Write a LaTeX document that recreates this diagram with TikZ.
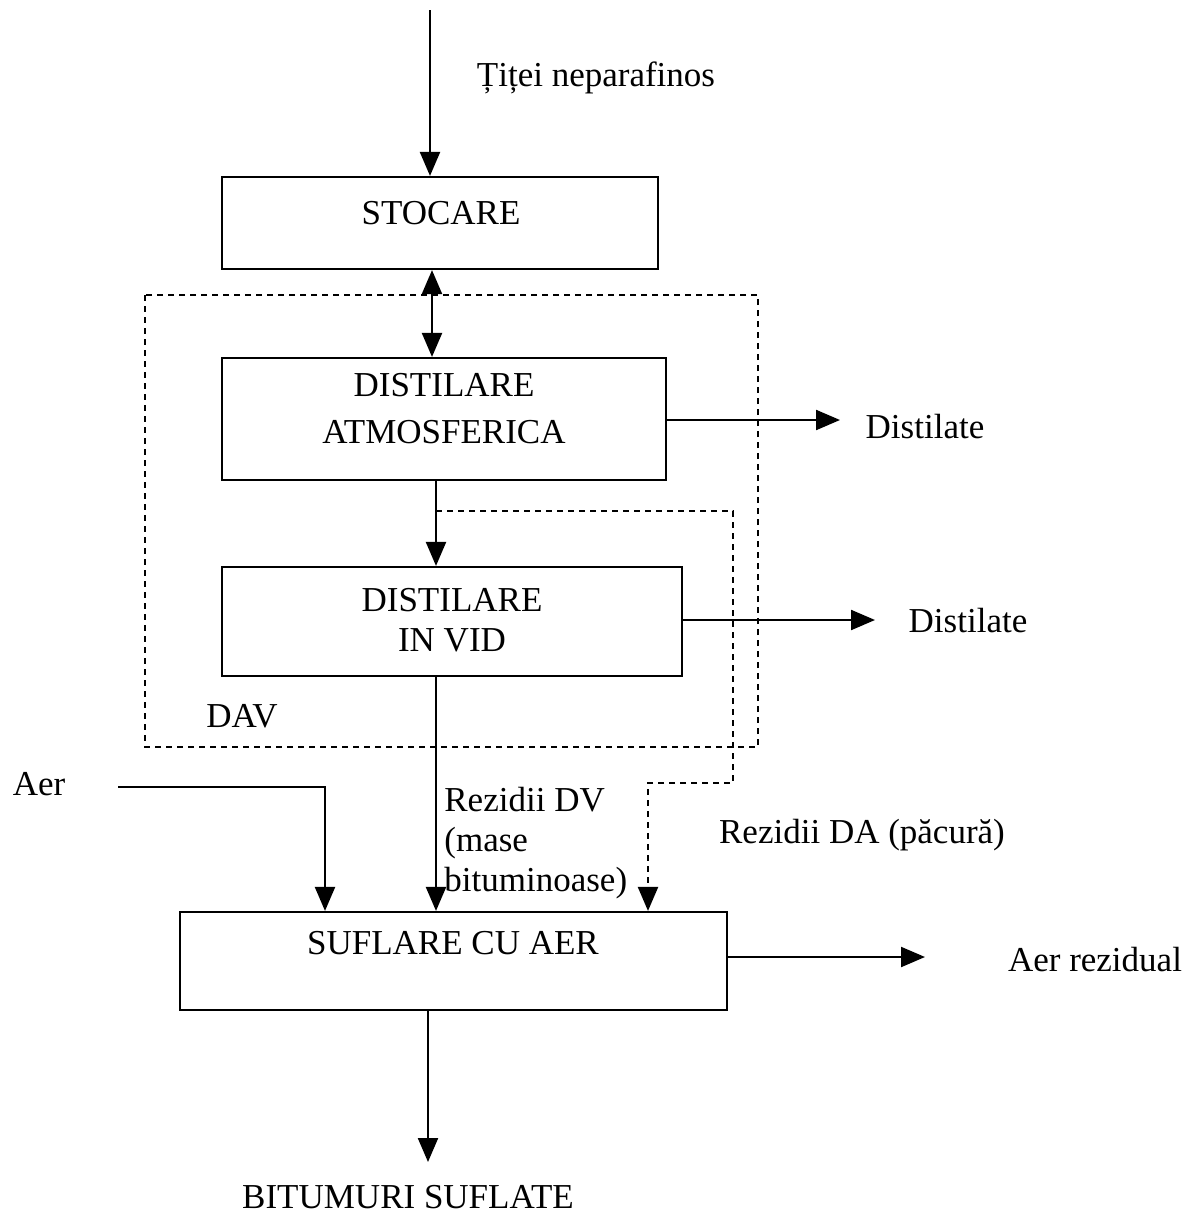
\documentclass[tikz,border=0pt]{standalone}
\usepackage{fontspec}
\setmainfont{Liberation Serif}
\usetikzlibrary{arrows.meta}
\begin{document}
\begin{tikzpicture}[x=0.5pt,y=-0.5pt,
  font=\fontsize{17.5}{20}\selectfont,
  flow/.style={line width=1.1pt, -{Triangle[length=12pt,width=10pt]}},
  dflow/.style={flow, dash pattern=on 3pt off 2.5pt},
  procbox/.style={draw, line width=1.1pt, rectangle, inner sep=0pt},
  txt/.style={inner sep=1pt}]
  % page frame
  \useasboundingbox (0,0) rectangle (1189,1217);

  % process boxes
  \node[procbox, minimum width=218pt, minimum height=46pt] (sto) at (440,223) {};
  \node[procbox, minimum width=222pt, minimum height=61pt] (atm) at (444,419) {};
  \node[procbox, minimum width=230pt, minimum height=54.5pt] (vid) at (452,621.5) {};
  \node[procbox, minimum width=273.5pt, minimum height=49pt] (suf) at (453.5,961) {};

  % box captions
  \node[txt] (stoT) at (441,213) {STOCARE};
  \node[txt, align=center, font=\fontsize{17.5}{23.5}\selectfont] (atmT) at (444,409) {DISTILARE\\ATMOSFERICA};
  \node[txt, align=center] (vidT) at (452,620) {DISTILARE\\IN VID};
  \node[txt] (sufT) at (453,943) {SUFLARE CU AER};

  % DAV unit boundary
  \draw[line width=1pt, dash pattern=on 3pt off 2.5pt] (145,295) rectangle (758,747);
  \node[txt] (dav) at (242,716) {DAV};

  % free ends and guide columns of the stream lines
  \coordinate (feed) at (430,10);
  \coordinate (dist1) at (840,420);
  \coordinate (dist2) at (875,620);
  \coordinate (air) at (118,787);
  \coordinate (airbend) at (325,787);
  \coordinate (resair) at (925,957);
  \coordinate (prod) at (428,1162);
  \coordinate (tap) at (436,511);
  \coordinate (tapR) at (733,511);
  \coordinate (tapD) at (733,783);
  \coordinate (tapL) at (648,783);
  \coordinate (colA) at (432,0);
  \coordinate (colB) at (436,0);
  \coordinate (colC) at (428,0);

  % streams
  \draw[flow] (feed) -- (feed |- sto.north);
  \draw[line width=1.1pt, {Triangle[length=12pt,width=10pt]}-{Triangle[length=12pt,width=10pt]}]
    (colA |- sto.south) -- (colA |- atm.north);
  \draw[flow] (atm.east |- dist1) -- (dist1);
  \draw[flow] (colB |- atm.south) -- (colB |- vid.north);
  \draw[flow] (vid.east |- dist2) -- (dist2);
  \draw[flow] (colB |- vid.south) -- (colB |- suf.north);
  \draw[flow] (air) -- (airbend) -- (airbend |- suf.north);
  \draw[dflow] (tap) -- (tapR) -- (tapD) -- (tapL) -- (tapL |- suf.north);
  \draw[flow] (suf.east |- resair) -- (resair);
  \draw[flow] (colC |- suf.south) -- (prod);

  % stream labels
  \node[txt] (crude) at (596,78) {Țiței neparafinos};
  \node[txt] (d1) at (925,427) {Distilate};
  \node[txt] (d2) at (968,621) {Distilate};
  \node[txt] (aerT) at (39,784) {Aer};
  \node[txt, anchor=west, align=left] (rdv) at (442,843) {Rezidii DV\\(mase\\bituminoase)};
  \node[txt] (rda) at (862,835) {Rezidii DA (păcură)};
  \node[txt] (ar) at (1095,960) {Aer rezidual};
  \node[txt] (bit) at (408,1197) {BITUMURI SUFLATE};
\end{tikzpicture}
\end{document}
